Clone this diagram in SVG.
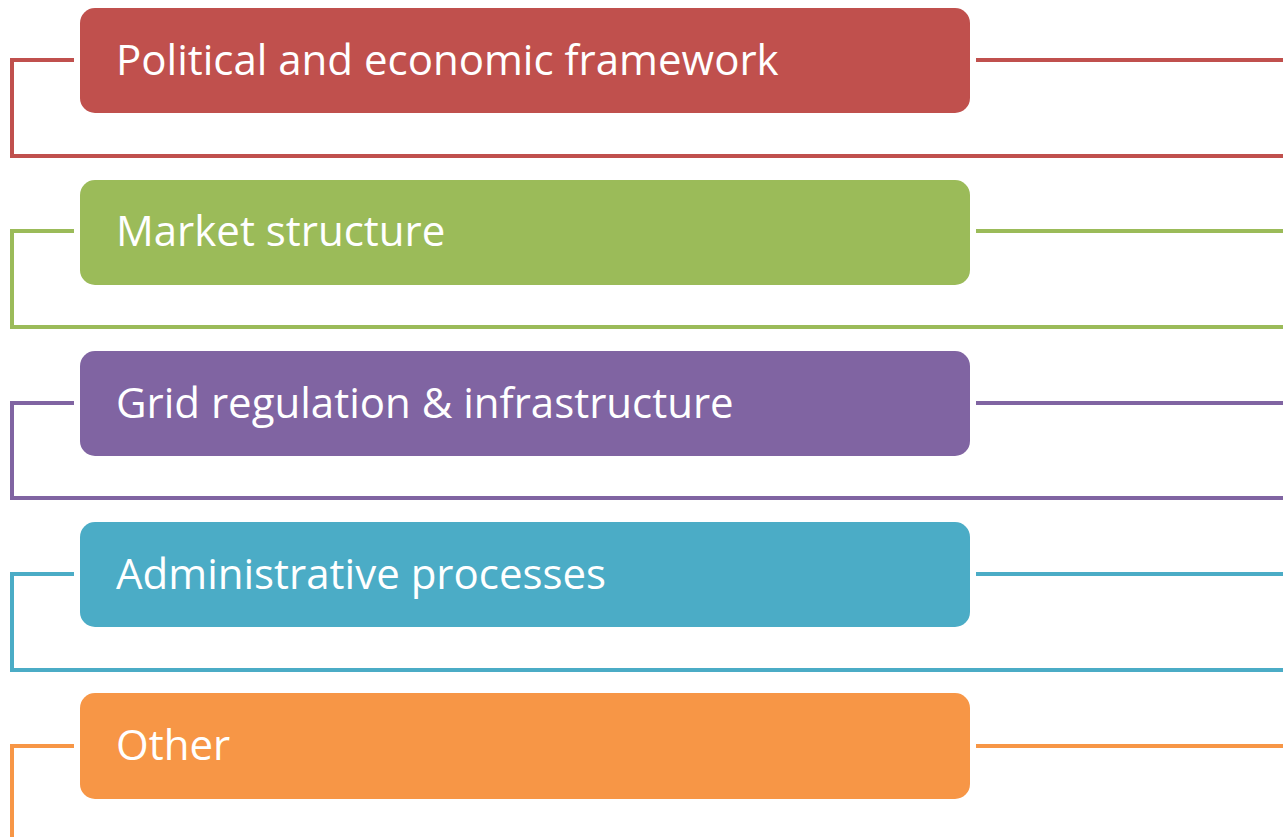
<svg xmlns="http://www.w3.org/2000/svg" width="1283" height="837" viewBox="0 0 1283 837">
<style>
.box{stroke:none}
.lbl{font-family:"Open Sans","Noto Sans","Liberation Sans",sans-serif;font-size:42px;fill:#fff}
.c{fill:none;stroke-width:4}
</style>
<rect width="1283" height="837" fill="#fff"/>
<g id="connectors">
<path class="c" stroke="#C0504D" d="M74,60 H12 V156 H1283 M976,60 H1283"/>
<path class="c" stroke="#9BBB59" d="M74,231 H12 V327 H1283 M976,231 H1283"/>
<path class="c" stroke="#8064A2" d="M74,403 H12 V498 H1283 M976,403 H1283"/>
<path class="c" stroke="#4BACC6" d="M74,574 H12 V670 H1283 M976,574 H1283"/>
<path class="c" stroke="#F79646" d="M74,746 H12 V837 M976,746 H1283"/>
</g>
<g id="n1"><rect class="box" x="80" y="8" width="890" height="105" rx="15" fill="#C0504D"/><text class="lbl" x="116" y="75">Political and economic framework</text></g>
<g id="n2"><rect class="box" x="80" y="180" width="890" height="105" rx="15" fill="#9BBB59"/><text class="lbl" x="116" y="246">Market structure</text></g>
<g id="n3"><rect class="box" x="80" y="351" width="890" height="105" rx="15" fill="#8064A2"/><text class="lbl" x="116" y="418">Grid regulation &amp; infrastructure</text></g>
<g id="n4"><rect class="box" x="80" y="522" width="890" height="105" rx="15" fill="#4BACC6"/><text class="lbl" x="116" y="589">Administrative processes</text></g>
<g id="n5"><rect class="box" x="80" y="693" width="890" height="106" rx="15" fill="#F79646"/><text class="lbl" x="116" y="760">Other</text></g>
</svg>
